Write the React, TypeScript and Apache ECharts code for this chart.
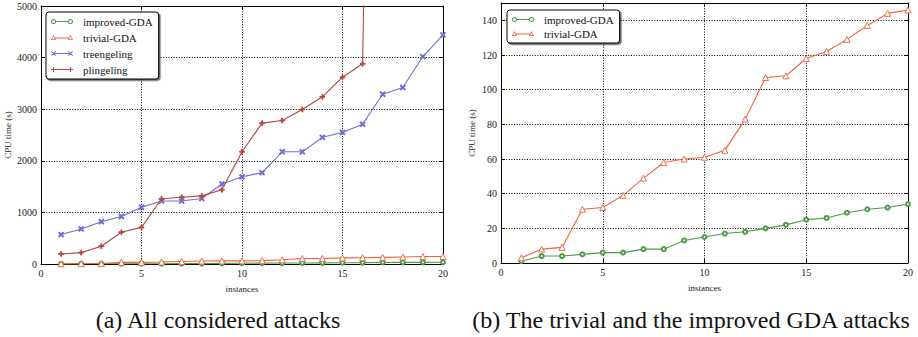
import React, { useEffect, useRef } from "react";
import * as echarts from "echarts";

const instances = [1, 2, 3, 4, 5, 6, 7, 8, 9, 10, 11, 12, 13, 14, 15, 16, 17, 18, 19, 20];
const improvedGDA = [1, 4, 4, 5, 6, 6, 8, 8, 13, 15, 17, 18, 20, 22, 25, 26, 29, 31, 32, 34];
const trivialGDA = [3, 8, 9, 31, 32, 39, 49, 58, 60, 61, 65, 83, 107, 108, 118, 122, 129, 137, 144, 146];
const treengeling = [570, 680, 820, 920, 1100, 1220, 1220, 1270, 1550, 1690, 1770, 2175, 2175, 2455, 2550, 2710, 3290, 3420, 4020, 4440];
// plingeling: last instance shoots far above the plot (timeout)
const plingeling = [195, 220, 345, 615, 710, 1265, 1295, 1320, 1440, 2175, 2730, 2780, 2995, 3240, 3620, 3880, 27000];

const leftXTicks = { min: 0, max: 20, interval: 5 };
const leftYTicks = { min: 0, max: 5000, interval: 1000 };
const rightYTicks = { min: 0, max: 150, interval: 20 };

const GREEN = "#4f9a47";
const RED = "#f2603c";
const BLUE = "#7070d2";
const DARKRED = "#b5473c";
const FONT = "'Liberation Serif', 'Times New Roman', serif";

const ICON_CIRCLE =
  "path://M5,2.5H17V3.5H5Z M0,3A2.5,2.5 0 1,1 5,3A2.5,2.5 0 1,1 0,3Z M0.9,3A1.6,1.6 0 1,0 4.1,3A1.6,1.6 0 1,0 0.9,3Z M17,3A2.5,2.5 0 1,1 22,3A2.5,2.5 0 1,1 17,3Z M17.9,3A1.6,1.6 0 1,0 21.1,3A1.6,1.6 0 1,0 17.9,3Z";
const ICON_TRI =
  "path://M4,3H18V4H4Z M0,5.5L2.5,0.5L5,5.5Z M1.125,4.75L3.875,4.75L2.5,2Z M17,5.5L19.5,0.5L22,5.5Z M18.125,4.75L20.875,4.75L19.5,2Z";
const ICON_X =
  "path://M2.5,2.5H19.5V3.5H2.5Z M0,1.2L0.7,0.5L5,4.8L4.3,5.5Z M4.3,0.5L5,1.2L0.7,5.5L0,4.8Z M17,1.2L17.7,0.5L22,4.8L21.3,5.5Z M21.3,0.5L22,1.2L17.7,5.5L17,4.8Z";
const ICON_PLUS =
  "path://M2.5,2.5H19.5V3.5H2.5Z M2,0.5H3V2.5H5V3.5H3V5.5H2V3.5H0V2.5H2Z M19,0.5H20V2.5H22V3.5H20V5.5H19V3.5H17V2.5H19Z";

const PLUS_SYMBOL = "path://M4.2,0H5.8V4.2H10V5.8H5.8V10H4.2V5.8H0V4.2H4.2Z";

function pairs(ys: number[]) {
  return ys.map((y, i) => [instances[i], y]);
}

function axisPair(gridIndex: number, ticks: { min: number; max: number; interval: number }, isX: boolean, name?: string, nameGap?: number) {
  const common = {
    gridIndex,
    type: "value" as const,
    min: ticks.min,
    max: ticks.max,
    interval: ticks.interval,
    axisLine: { show: true, onZero: false, lineStyle: { color: "#000", width: 1 } },
    axisTick: { show: true, inside: true, length: 4, lineStyle: { color: "#000", width: 1 } },
  };
  const main = {
    ...common,
    position: isX ? "bottom" : "left",
    name,
    nameLocation: "middle",
    nameGap,
    nameTextStyle: { fontFamily: FONT, fontSize: 9, color: "#222" },
    axisLabel: {
      show: true,
      fontFamily: FONT,
      fontSize: 10,
      color: "#222",
      margin: 4,
      formatter: (v: number) => String(v),
      showMaxLabel: ticks.max % ticks.interval === 0,
    },
    splitLine: { show: true, lineStyle: { color: "#000", width: 1, type: [1, 1.6] } },
  };
  const opposite = {
    ...common,
    position: isX ? "top" : "right",
    axisLabel: { show: false },
    splitLine: { show: false },
  };
  return [main, opposite];
}

export default function App() {
  const ref = useRef<HTMLDivElement>(null);
  useEffect(() => {
    if (!ref.current) return;
    const chart = echarts.init(ref.current, undefined, { renderer: "svg" });
    const lineSeries = (name: string, ys: number[], color: string, axisIdx: number, sym: any, extra: any = {}) => ({
      type: "line",
      name,
      data: pairs(ys),
      xAxisIndex: axisIdx,
      yAxisIndex: axisIdx,
      symbol: sym,
      symbolSize: 4,
      showAllSymbol: true,
      clip: true,
      lineStyle: { color, width: 1.1 },
      itemStyle: { color, borderColor: color, borderWidth: 1 },
      emphasis: { disabled: true },
      ...extra,
    });
    const triStyle = (color: string) => ({
      symbolSize: 6,
      itemStyle: { color: "#fff", borderColor: color, borderWidth: 0.9 },
    });
    const legendCommon = {
      orient: "vertical",
      itemWidth: 22,
      itemHeight: 6,
      backgroundColor: "#fff",
      borderColor: "#000",
      borderWidth: 1,
      borderRadius: 3,
      shadowColor: "rgba(0,0,0,0.6)",
      shadowBlur: 1,
      shadowOffsetX: 1.5,
      shadowOffsetY: 1.5,
      selectedMode: false,
      textStyle: { fontFamily: FONT, fontSize: 11, color: "#111", padding: [0, 0, 0, 5] },
    };
    const [x0, x0t] = axisPair(0, leftXTicks, true, "instances", 20);
    const [y0, y0r] = axisPair(0, leftYTicks, false, "CPU time (s)", 29);
    const [x1, x1t] = axisPair(1, leftXTicks, true, "instances", 20);
    const [y1, y1r] = axisPair(1, rightYTicks, false, "CPU time (s)", 25);
    chart.setOption({
      animation: false,
      grid: [
        { left: 41, right: 475, top: 6, bottom: 73 },
        { left: 501, right: 10, top: 3, bottom: 74 },
      ],
      xAxis: [x0, x0t, x1, x1t],
      yAxis: [y0, y0r, y1, y1r],
      legend: [
        {
          ...legendCommon,
          left: 46,
          top: 12,
          padding: [4, 6, 4, 5],
          itemGap: 5,
          data: [
            { name: "improved-GDA", icon: ICON_CIRCLE, itemStyle: { color: GREEN, borderWidth: 0 } },
            { name: "trivial-GDA", icon: ICON_TRI, itemStyle: { color: RED, borderWidth: 0 } },
            { name: "treengeling", icon: ICON_X, itemStyle: { color: BLUE, borderWidth: 0 } },
            { name: "plingeling", icon: ICON_PLUS, itemStyle: { color: DARKRED, borderWidth: 0 } },
          ],
        },
        {
          ...legendCommon,
          left: 507,
          top: 10,
          padding: [4, 6, 4, 5],
          itemGap: 3,
          data: [
            { name: "improved-GDA", icon: ICON_CIRCLE, itemStyle: { color: GREEN, borderWidth: 0 } },
            { name: "trivial-GDA", icon: ICON_TRI, itemStyle: { color: RED, borderWidth: 0 } },
          ],
        },
      ],
      series: [
        lineSeries("improved-GDA", improvedGDA, GREEN, 0, "emptyCircle"),
        lineSeries("trivial-GDA", trivialGDA, RED, 0, "triangle", triStyle(RED)),
        lineSeries("treengeling", treengeling, BLUE, 0, PLUS_SYMBOL, { symbolRotate: 45, symbolSize: 6 }),
        lineSeries("plingeling", plingeling, DARKRED, 0, PLUS_SYMBOL, { symbolSize: 5 }),
        lineSeries("improved-GDA", improvedGDA, GREEN, 2, "emptyCircle"),
        lineSeries("trivial-GDA", trivialGDA, RED, 2, "triangle", triStyle(RED)),
      ],
      graphic: [
        {
          type: "text",
          x: 218,
          y: 320,
          style: {
            text: "(a) All considered attacks",
            fontFamily: FONT,
            fontSize: 24,
            fill: "#111",
            align: "center",
            verticalAlign: "middle",
          },
        },
        {
          type: "text",
          x: 691,
          y: 320,
          style: {
            text: "(b) The trivial and the improved GDA attacks",
            fontFamily: FONT,
            fontSize: 24,
            fill: "#111",
            align: "center",
            verticalAlign: "middle",
          },
        },
      ],
    });
    return () => chart.dispose();
  }, []);
  return (
    <div
      ref={ref}
      style={{ position: "fixed", left: 0, top: 0, width: 918, height: 337, background: "#fff" }}
    />
  );
}
